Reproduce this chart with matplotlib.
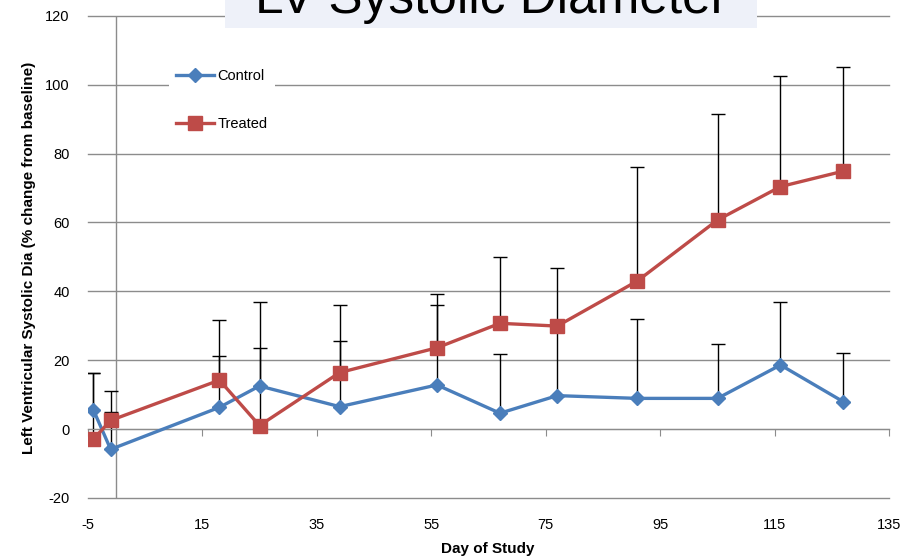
import matplotlib
matplotlib.use("Agg")
import matplotlib.pyplot as plt
from matplotlib.patches import Rectangle

plt.rcParams['font.family'] = ['Liberation Sans', 'DejaVu Sans']
plt.rcParams['axes.unicode_minus'] = False

days = [-4, -1, 18, 25, 39, 56, 67, 77, 91, 105, 116, 127]
control = [5.5, -5.9, 6.3, 12.5, 6.5, 12.8, 4.6, 9.7, 8.9, 8.9, 18.6, 7.9]
control_err = [10.9, 10.9, 14.9, 24.5, 19.0, 23.3, 17.2, 19.3, 23.0, 15.8, 18.2, 14.1]
treated = [-2.9, 2.5, 14.2, 1.0, 16.4, 23.6, 30.7, 29.9, 43.0, 60.7, 70.4, 74.9]
treated_err = [19.3, 8.5, 17.5, 22.5, 19.7, 15.7, 19.3, 16.8, 33.2, 30.7, 32.1, 30.1]

x_ticks = list(range(-5, 136, 20))
y_ticks = list(range(-20, 121, 20))

blue = '#4A7EBB'
red = '#BE4B48'
grid_col = '#8C8C8C'

fig = plt.figure(figsize=(9.18, 5.59), dpi=100)
ax = fig.add_axes([0.0956, 0.1093, 0.8731, 0.8624])

# error bars (upper only), drawn under the lines
ax.errorbar(days, control, yerr=[[0] * len(days), control_err], fmt='none',
            ecolor='black', elinewidth=1, capsize=5, capthick=1, zorder=2)
ax.errorbar(days, treated, yerr=[[0] * len(days), treated_err], fmt='none',
            ecolor='black', elinewidth=1, capsize=5, capthick=1, zorder=2)

ax.plot(days, control, color=blue, lw=2.4, marker='D', ms=7.5, label='Control', zorder=3)
ax.plot(days, treated, color=red, lw=2.4, marker='s', ms=9.5, label='Treated', zorder=4)

ax.set_xlim(-5, 135)
ax.set_ylim(-20, 120)
ax.set_xticks(x_ticks)
ax.set_yticks(y_ticks)

ax.yaxis.grid(True, color=grid_col, lw=1)
for gl in ax.get_ygridlines():
    gl.set_clip_on(False)
ax.set_axisbelow(True)
ax.axvline(0, color=grid_col, lw=1, zorder=1)

for s in ['top', 'right', 'left']:
    ax.spines[s].set_visible(False)
ax.spines['bottom'].set_position(('data', 0))
ax.spines['bottom'].set_color(grid_col)

ax.tick_params(axis='x', direction='out', length=5, color=grid_col, pad=59, labelsize=10.5)
ax.tick_params(axis='y', length=0, pad=13, labelsize=10.5)

fig.text(488 / 918, 1 - 549 / 559, 'Day of Study', ha='center', va='center',
         fontsize=11, fontweight='bold')
fig.text(29 / 918, 1 - 258 / 559, 'Left Ventricular Systolic Dia (% change from baseline)',
         ha='center', va='center', rotation=90, fontsize=11, fontweight='bold')

leg = ax.legend(loc='center left', bbox_to_anchor=(169 / 918, 1 - 100 / 559),
                bbox_transform=fig.transFigure, frameon=True, fancybox=False,
                edgecolor='none', facecolor='white', framealpha=1,
                fontsize=10.5, handlelength=2.6, handletextpad=0.2,
                labelspacing=2.3, borderpad=0.5, borderaxespad=0)

# title box (mostly cut off at the top of the image)
fig.patches.append(Rectangle((225 / 918, 1 - 27.5 / 559), 532 / 918, 27.5 / 559,
                             transform=fig.transFigure, facecolor='#EEF1F9',
                             edgecolor='none', zorder=5))
fig.text(491 / 918, 1 - 13 / 559, 'LV Systolic Diameter', ha='center', va='baseline',
         fontsize=37, zorder=6)

fig.savefig('out.png', dpi=100)
